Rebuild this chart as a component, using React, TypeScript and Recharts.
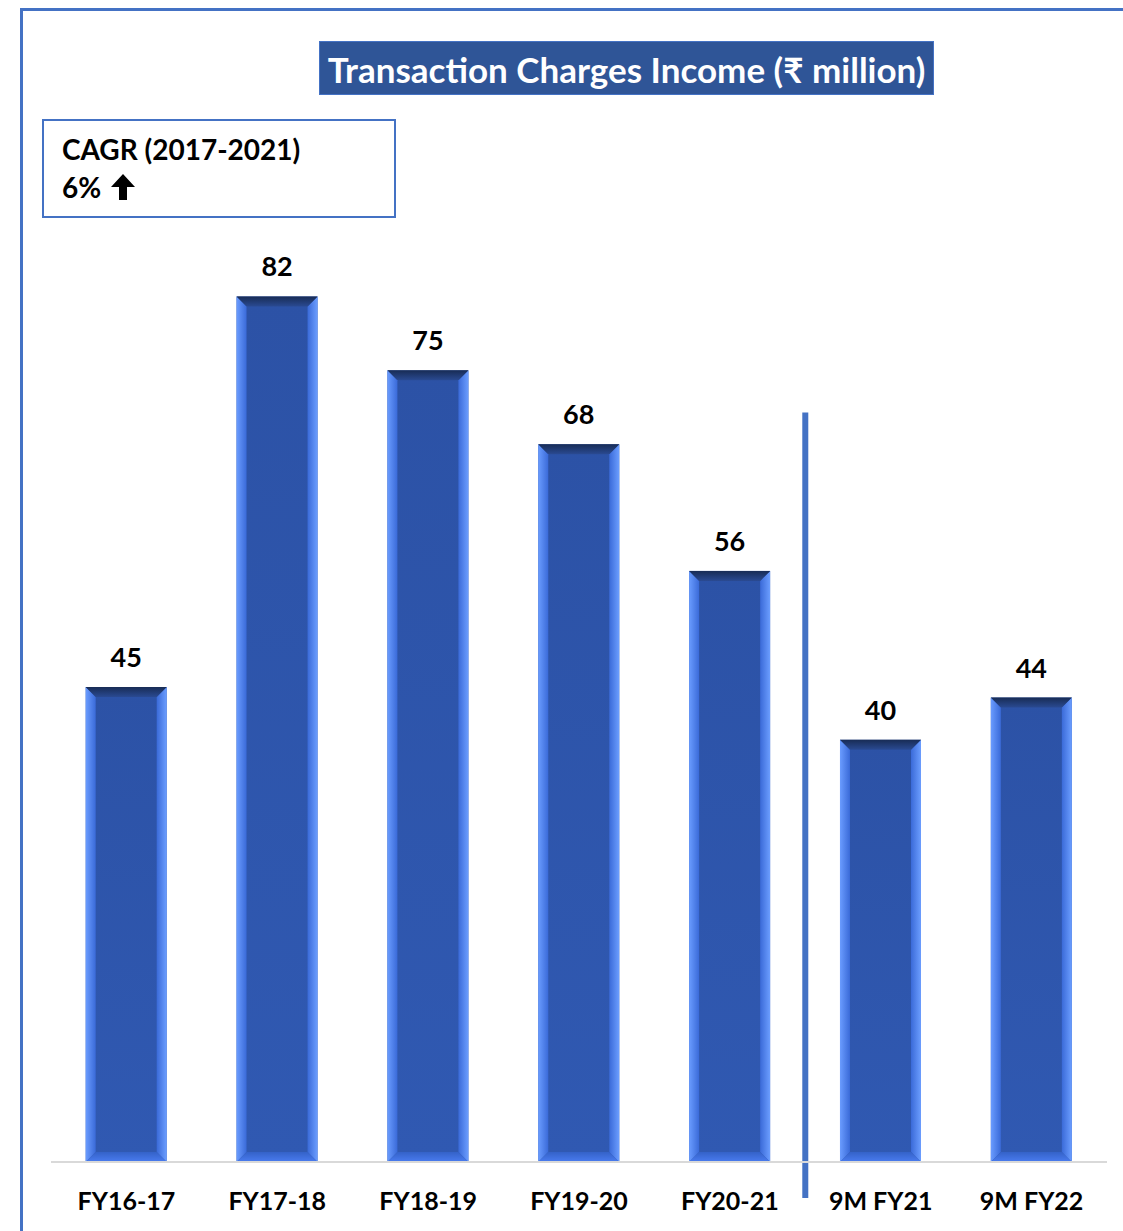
import React from "react";
import {
  BarChart,
  Bar,
  XAxis,
  YAxis,
  LabelList,
  ReferenceLine,
} from "recharts";

const categories = ["FY16-17", "FY17-18", "FY18-19", "FY19-20", "FY20-21", "9M FY21", "9M FY22"];
const incomeValues = [45, 82, 75, 68, 56, 40, 44];

const data = categories.map((name, i) => ({ name, value: incomeValues[i] }));

const FONT = "Lato, 'DejaVu Sans', sans-serif";
const BLUE = "#4472C4";

// bevelled 3D-looking bar, like the Office "bevel" effect
function BevelBar(props: any) {
  const { x, y, width: w, height: h } = props;
  if (!h || h <= 0) return null;
  const b = 10;
  return (
    <g>
      <rect x={x} y={y} width={w} height={h} fill="url(#face)" />
      <polygon
        points={`${x},${y} ${x + b},${y + b} ${x + b},${y + h - b} ${x},${y + h}`}
        fill="url(#leftEdge)"
      />
      <polygon
        points={`${x + w},${y} ${x + w - b},${y + b} ${x + w - b},${y + h - b} ${x + w},${y + h}`}
        fill="url(#rightEdge)"
      />
      <polygon
        points={`${x},${y} ${x + w},${y} ${x + w - b},${y + b} ${x + b},${y + b}`}
        fill="url(#topEdge)"
      />
      <polygon
        points={`${x},${y + h} ${x + w},${y + h} ${x + w - b},${y + h - b} ${x + b},${y + h - b}`}
        fill="url(#bottomEdge)"
      />
    </g>
  );
}

function XTick(props: any) {
  const { x, y, payload } = props;
  return (
    <text
      x={x}
      y={y + 48}
      textAnchor="middle"
      fontFamily={FONT}
      fontWeight={700}
      fontSize={25}
      fill="#000"
    >
      {payload.value}
    </text>
  );
}

export default function App() {
  return (
    <div
      style={{
        position: "absolute",
        left: 0,
        top: 0,
        width: 1123,
        height: 1231,
        background: "#fff",
        overflow: "hidden",
        fontFamily: FONT,
      }}
    >
      {/* frame: only top and left edges are visible */}
      <div
        style={{
          position: "absolute",
          left: 20,
          top: 8,
          width: 1200,
          height: 1300,
          borderTop: `3px solid ${BLUE}`,
          borderLeft: `3px solid ${BLUE}`,
        }}
      />

      <div style={{ position: "absolute", left: 0, top: 0 }}>
        <BarChart
          width={1123}
          height={1231}
          data={data}
          margin={{ top: 212, right: 16, bottom: 39, left: 51 }}
          barCategoryGap="23%"
        >
          <defs>
            <linearGradient id="face" x1="0" y1="0" x2="0" y2="1">
              <stop offset="0%" stopColor="#2C52A6" />
              <stop offset="100%" stopColor="#3059B2" />
            </linearGradient>
            <linearGradient id="leftEdge" x1="0" y1="0" x2="1" y2="0">
              <stop offset="0%" stopColor="#6A9CFF" />
              <stop offset="100%" stopColor="#3A6AD8" />
            </linearGradient>
            <linearGradient id="rightEdge" x1="0" y1="0" x2="1" y2="0">
              <stop offset="0%" stopColor="#3A6AD8" />
              <stop offset="100%" stopColor="#6C9EFF" />
            </linearGradient>
            <linearGradient id="topEdge" x1="0" y1="0" x2="0" y2="1">
              <stop offset="0%" stopColor="#182C55" />
              <stop offset="100%" stopColor="#2A4A92" />
            </linearGradient>
            <linearGradient id="bottomEdge" x1="0" y1="0" x2="0" y2="1">
              <stop offset="0%" stopColor="#3462C8" />
              <stop offset="100%" stopColor="#4A7CF0" />
            </linearGradient>
          </defs>
          <XAxis
            dataKey="name"
            height={30}
            axisLine={{ stroke: "#D9D9D9", strokeWidth: 2 }}
            tickLine={false}
            tickSize={0}
            tickMargin={0}
            interval={0}
            tick={<XTick />}
          />
          <YAxis hide domain={[0, 90]} />
          <Bar dataKey="value" shape={<BevelBar />} isAnimationActive={false}>
            <LabelList
              dataKey="value"
              position="top"
              offset={20}
              fill="#000"
              fontFamily={FONT}
              fontWeight={700}
              fontSize={27}
            />
          </Bar>
          <ReferenceLine
            segment={[
              { x: "FY20-21", y: 71 },
              { x: "FY20-21", y: -3.4 },
            ]}
            position="end"
            ifOverflow="visible"
            stroke={BLUE}
            strokeWidth={6}
          />
        </BarChart>
      </div>

      {/* title */}
      <div
        style={{
          position: "absolute",
          left: 319,
          top: 41,
          width: 613,
          height: 52,
          background: "#2F5597",
          border: "1px solid #4472C4",
          color: "#fff",
          fontWeight: 700,
          fontSize: 35,
          lineHeight: "54px",
          textAlign: "center",
          whiteSpace: "nowrap",
        }}
      >
        Transaction Charges Income (₹ million)
      </div>

      {/* CAGR box */}
      <div
        style={{
          position: "absolute",
          left: 42,
          top: 119,
          width: 350,
          height: 95,
          border: `2px solid ${BLUE}`,
          color: "#000",
          fontWeight: 700,
          fontSize: 28,
        }}
      >
        <div style={{ position: "absolute", left: 18, top: 10, lineHeight: "36px", whiteSpace: "nowrap" }}>
          CAGR (2017-2021)
        </div>
        <div style={{ position: "absolute", left: 18, top: 48, lineHeight: "36px", whiteSpace: "nowrap", display: "flex", alignItems: "center" }}>
          6%
          <svg width="26" height="28" viewBox="0 0 26 28" style={{ marginLeft: 9 }}>
            <polygon points="13,1 25,14 17,14 17,27 9,27 9,14 1,14" fill="#000" />
          </svg>
        </div>
      </div>
    </div>
  );
}
